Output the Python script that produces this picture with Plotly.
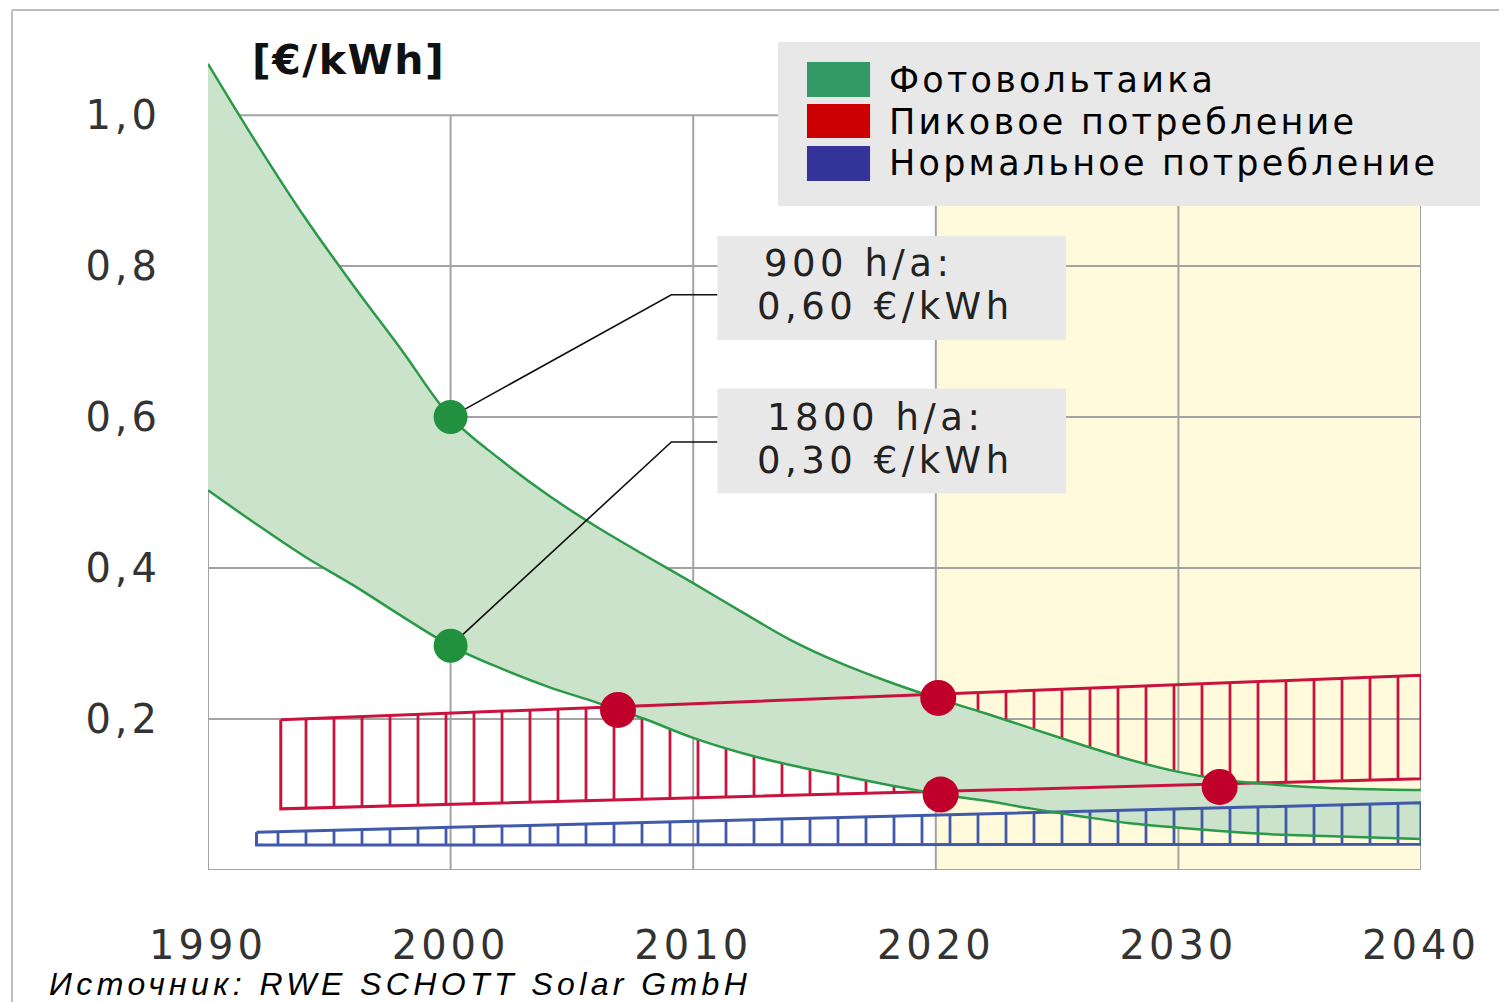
import plotly.graph_objects as go

# ---------------- data ----------------
years = [1990, 1992, 1994, 1996, 1998, 2000, 2002, 2004, 2006, 2008, 2010, 2012, 2014,
         2016, 2018, 2020, 2022, 2024, 2026, 2028, 2030, 2032, 2034, 2036, 2038, 2040]
pv_900h = [1.068, 0.963, 0.864, 0.774, 0.688, 0.600, 0.545, 0.497, 0.455, 0.417, 0.380, 0.342, 0.305,
           0.275, 0.250, 0.228, 0.208, 0.187, 0.166, 0.146, 0.130, 0.119, 0.113, 0.109, 0.107, 0.106]
pv_1800h = [0.503, 0.458, 0.415, 0.377, 0.336, 0.297, 0.268, 0.243, 0.222, 0.200, 0.175, 0.155, 0.139,
            0.126, 0.113, 0.101, 0.092, 0.081, 0.071, 0.062, 0.056, 0.051, 0.047, 0.045, 0.043, 0.041]

peak_years = [1993, 2040]
peak_top = [0.199, 0.258]
peak_bottom = [0.081, 0.121]

normal_years = [1992, 2040]
normal_top = [0.050, 0.089]
normal_bottom = [0.033, 0.034]

pv_marked_years = [2000, 2000]
pv_marked_values = [0.600, 0.297]

cross_years = [2006.9, 2020.1, 2020.2, 2031.7]
cross_values = [0.212, 0.228, 0.100, 0.110]

x_ticks = [1990, 2000, 2010, 2020, 2030, 2040]
x_tick_labels = ["1990", "2000", "2010", "2020", "2030", "2040"]
y_ticks = [0.2, 0.4, 0.6, 0.8, 1.0]
y_tick_labels = ["0,2", "0,4", "0,6", "0,8", "1,0"]

callout_900 = ["900 h/a:", "0,60 €/kWh"]
callout_1800 = ["1800 h/a:", "0,30 €/kWh"]

legend_labels = ["Фотовольтаика", "Пиковое потребление", "Нормальное потребление"]
legend_colors = ["#339966", "#cc0000", "#333399"]

unit_label = "[€/kWh]"
source_label = "Источник: RWE SCHOTT Solar GmbH"
forecast_start = 2020

# ---------------- styles ----------------
GREEN_LINE = "#2a9a48"
GREEN_FILL = "#cce3cb"
GREEN_DOT = "#22913f"
RED = "#c8133f"
RED_DOT = "#c0002b"
BLUE = "#4059a8"
YELLOW = "#fffadb"
GRID = "#a3a3a3"
NUM_FONT = "DejaVu Sans"
TXT_FONT = "DejaVu Sans"
SRC_FONT = "Liberation Sans"


def spaced(txt, px):
    return '<span style="letter-spacing:%spx">%s</span>' % (px, txt)


fig = go.Figure()


def band_polygon(xs, top, bottom):
    px = [xs[0], xs[-1], xs[-1], xs[0], xs[0]]
    py = [top[0], top[-1], bottom[-1], bottom[0], top[0]]
    return px, py


# red band hatching (below the green fill)
rx, ry = band_polygon(peak_years, peak_top, peak_bottom)
fig.add_trace(go.Scatter(
    x=rx, y=ry, mode="lines", fill="toself", line=dict(width=0),
    fillcolor="rgba(0,0,0,0)",
    fillpattern=dict(shape="|", fgcolor=RED, bgcolor="rgba(0,0,0,0)",
                     size=28, solidity=0.1, fillmode="replace"),
    hoverinfo="skip", showlegend=False))

# green band
fig.add_trace(go.Scatter(x=years, y=pv_1800h, mode="lines", line=dict(width=0, shape="spline"),
                         hoverinfo="skip", showlegend=False))
fig.add_trace(go.Scatter(x=years, y=pv_900h, mode="lines", line=dict(width=0, shape="spline"),
                         fill="tonexty", fillcolor=GREEN_FILL, hoverinfo="skip", showlegend=False))

# blue band
bx, by = band_polygon(normal_years, normal_top, normal_bottom)
fig.add_trace(go.Scatter(
    x=bx, y=by, mode="lines", fill="toself", line=dict(width=3, color=BLUE),
    fillcolor="rgba(0,0,0,0)",
    fillpattern=dict(shape="|", fgcolor=BLUE, bgcolor="rgba(0,0,0,0)",
                     size=28, solidity=0.1, fillmode="replace"),
    hoverinfo="skip", showlegend=False))

# red band outline
fig.add_trace(go.Scatter(x=rx, y=ry, mode="lines", line=dict(width=3, color=RED),
                         hoverinfo="skip", showlegend=False))

# green lines
for series in (pv_900h, pv_1800h):
    fig.add_trace(go.Scatter(x=years, y=series, mode="lines",
                             line=dict(width=2.5, color=GREEN_LINE, shape="spline"),
                             hoverinfo="skip", showlegend=False))

# callout leader lines
elbow_year, box_year = 2009.1, 2011.0
leader_levels = [0.762, 0.567]
for yv, xv, lv in zip(pv_marked_values, pv_marked_years, leader_levels):
    fig.add_trace(go.Scatter(x=[xv, elbow_year, box_year], y=[yv, lv, lv], mode="lines",
                             line=dict(width=1.6, color="#111111"),
                             hoverinfo="skip", showlegend=False))

# dots
fig.add_trace(go.Scatter(x=pv_marked_years, y=pv_marked_values, mode="markers",
                         marker=dict(size=34, color=GREEN_DOT), hoverinfo="skip", showlegend=False))
fig.add_trace(go.Scatter(x=cross_years, y=cross_values, mode="markers",
                         marker=dict(size=36, color=RED_DOT), hoverinfo="skip", showlegend=False))

shapes = []
# yellow forecast zone
shapes.append(dict(type="rect", xref="x", yref="y", x0=forecast_start, x1=x_ticks[-1],
                   y0=0, y1=y_ticks[-1], fillcolor=YELLOW, line=dict(width=0), layer="below"))
# grid lines (limited to 0..1)
for yv in y_ticks:
    shapes.append(dict(type="line", xref="x", yref="y", x0=x_ticks[0], x1=x_ticks[-1], y0=yv, y1=yv,
                       line=dict(color=GRID, width=2), layer="below"))
for xv in x_ticks:
    shapes.append(dict(type="line", xref="x", yref="y", x0=xv, x1=xv, y0=0, y1=y_ticks[-1],
                       line=dict(color=GRID, width=2), layer="below"))
shapes.append(dict(type="line", xref="x", yref="y", x0=x_ticks[0], x1=x_ticks[-1], y0=0, y1=0,
                   line=dict(color=GRID, width=2), layer="below"))

# callout boxes
for y0, y1 in [(0.702, 0.840), (0.499, 0.638)]:
    shapes.append(dict(type="rect", xref="x", yref="y", x0=2011.0, x1=2025.37, y0=y0, y1=y1,
                       fillcolor="#e8e8e8", line=dict(width=0), layer="above"))

# legend box
shapes.append(dict(type="rect", xref="paper", yref="paper", x0=0.4699, x1=1.0487, y0=0.7784, y1=0.9707,
                   fillcolor="#e8e8e8", line=dict(width=0), layer="above"))
sw_rows = [(0.9062, 0.9472), (0.8581, 0.8980), (0.8077, 0.8488)]
for (y0, y1), col in zip(sw_rows, legend_colors):
    shapes.append(dict(type="rect", xref="paper", yref="paper", x0=0.4938, x1=0.5458, y0=y0, y1=y1,
                       fillcolor=col, line=dict(width=0), layer="above"))

# outer frame lines of the page
shapes.append(dict(type="line", xref="paper", yref="paper", x0=-0.1616, x1=1.08, y0=1.0082, y1=1.0082,
                   line=dict(color="#bdbdbd", width=2)))
shapes.append(dict(type="line", xref="paper", yref="paper", x0=-0.1616, x1=-0.1616, y0=1.0082, y1=-0.16,
                   line=dict(color="#bdbdbd", width=2)))

annotations = []
for txt, yv in zip(legend_labels, [0.9261, 0.8769, 0.8288]):
    annotations.append(dict(text=spaced(txt, 3.2), xref="paper", yref="paper", x=0.5598, y=yv,
                            xanchor="left", yanchor="middle", showarrow=False,
                            font=dict(family=TXT_FONT, size=35, color="#000000")))

for lines, ys, xs in [(callout_900, [0.804, 0.747], [2012.84, 2012.55]),
                      (callout_1800, [0.600, 0.542], [2012.96, 2012.55])]:
    for txt, yv, xv in zip(lines, ys, xs):
        annotations.append(dict(text=spaced(txt, 4.5), xref="x", yref="y", x=xv, y=yv,
                                xanchor="left", yanchor="middle", showarrow=False,
                                font=dict(family=NUM_FONT, size=37, color="#222222")))

annotations.append(dict(text="<b>" + spaced(unit_label, 1.5) + "</b>", xref="paper", yref="paper",
                        x=0.0346, y=0.9496, xanchor="left", yanchor="middle", showarrow=False,
                        font=dict(family=NUM_FONT, size=41, color="#111111")))
annotations.append(dict(text="<i>" + spaced(source_label, 4.4) + "</i>", xref="paper", yref="paper",
                        x=-0.1327, y=-0.1336, xanchor="left", yanchor="middle", showarrow=False,
                        font=dict(family=SRC_FONT, size=32, color="#000000")))

# figure is placed with the page's default 8px body margin, so margins are reduced by 8px
fig.update_layout(
    width=1499, height=994,
    margin=dict(l=200, r=86, t=9, b=132),
    paper_bgcolor="white", plot_bgcolor="white",
    shapes=shapes, annotations=annotations, showlegend=False,
    xaxis=dict(range=[x_ticks[0], x_ticks[-1]], tickvals=x_ticks,
               ticktext=[spaced(t, 4) for t in x_tick_labels],
               showgrid=False, zeroline=False, showline=False, ticks="",
               tickfont=dict(family=NUM_FONT, size=40, color="#333333"), ticklabelstandoff=48),
    yaxis=dict(range=[0, 1.13], tickvals=y_ticks, ticktext=[spaced(t, 4) for t in y_tick_labels],
               showgrid=False, zeroline=False, showline=False, ticks="",
               tickfont=dict(family=NUM_FONT, size=40, color="#333333"), ticklabelstandoff=46),
)

fig.write_html("out.html")
